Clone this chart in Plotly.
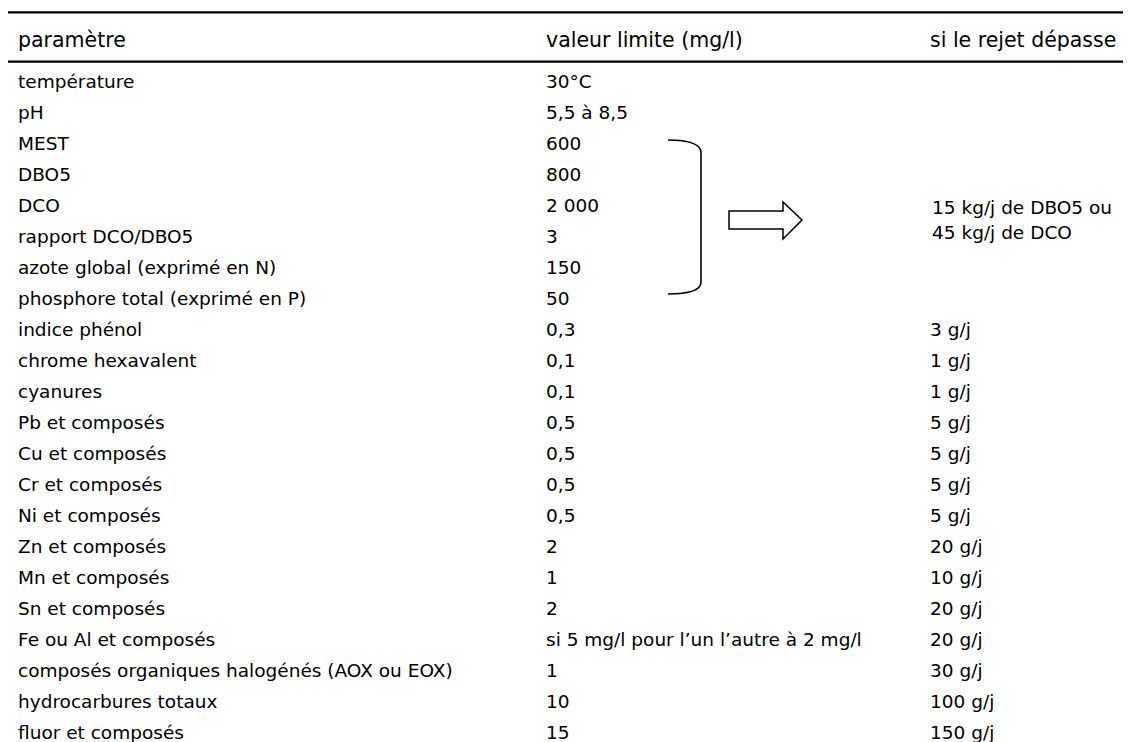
import plotly.graph_objects as go

# ---- data ----
headers = ["paramètre", "valeur limite (mg/l)", "si le rejet dépasse"]
parametres = [
    "température", "pH", "MEST", "DBO5", "DCO", "rapport DCO/DBO5",
    "azote global (exprimé en N)", "phosphore total (exprimé en P)",
    "indice phénol", "chrome hexavalent", "cyanures", "Pb et composés",
    "Cu et composés", "Cr et composés", "Ni et composés", "Zn et composés",
    "Mn et composés", "Sn et composés", "Fe ou Al et composés",
    "composés organiques halogénés (AOX ou EOX)", "hydrocarbures totaux",
    "fluor et composés",
]
valeurs_limite = [
    "30°C", "5,5 à 8,5", "600", "800", "2 000", "3", "150", "50",
    "0,3", "0,1", "0,1", "0,5", "0,5", "0,5", "0,5", "2", "1", "2",
    "si 5 mg/l pour l’un l’autre à 2 mg/l", "1", "10", "15",
]
seuils = [
    "", "", "", "", "", "", "", "",
    "3 g/j", "1 g/j", "1 g/j", "5 g/j", "5 g/j", "5 g/j", "5 g/j", "20 g/j",
    "10 g/j", "20 g/j", "20 g/j", "30 g/j", "100 g/j", "150 g/j",
]
seuil_groupe = ["15 kg/j de DBO5 ou", "45 kg/j de DCO"]

# ---- layout constants (page pixel coordinates) ----
W, H = 1131, 742
PAGE_OFF = 8  # default body margin of the html page
col_x = [17, 545, 929]
header_y = 40
row0_y, row_h = 81.8, 31.0
body_font = dict(family="DejaVu Sans, Verdana, sans-serif", size=18.5, color="#000000")
head_font = dict(family="DejaVu Sans, Verdana, sans-serif", size=20.5, color="#000000")

annotations = []
for x, h in zip(col_x, headers):
    annotations.append(dict(x=x, y=header_y, text=h, font=head_font))
for i, (p, v, s) in enumerate(zip(parametres, valeurs_limite, seuils)):
    y = row0_y + i * row_h
    for x, t in zip(col_x, (p, v, s)):
        if t:
            annotations.append(dict(x=x, y=y, text=t, font=body_font))
for j, t in enumerate(seuil_groupe):
    annotations.append(dict(x=931, y=207 + j * 25, text=t, font=body_font))

for a in annotations:
    a.update(xref="x", yref="y", xanchor="left", yanchor="middle",
             showarrow=False, borderpad=0)

shapes = [
    dict(type="line", x0=8, x1=W, y0=12.3, y1=12.3, line=dict(color="black", width=2.2)),
    dict(type="line", x0=8, x1=W, y0=61.7, y1=61.7, line=dict(color="black", width=2.2)),
    # bracket
    dict(type="path",
         path="M 668 140 C 690 140 701 144 701 153 L 701 282 C 701 290 690 294 668 294",
         line=dict(color="black", width=1.6)),
    # arrow
    dict(type="path",
         path="M 729 211 L 783 211 L 783 202 L 802 220 L 783 239 L 783 229 L 729 229 Z",
         line=dict(color="black", width=1.5), fillcolor="rgba(0,0,0,0)"),
]
for s in shapes:
    s.update(xref="x", yref="y")

fig = go.Figure()
fig.add_trace(go.Scatter(x=[PAGE_OFF, W], y=[PAGE_OFF, H], mode="markers",
                         marker=dict(opacity=0), hoverinfo="skip", showlegend=False))
fig.update_layout(
    width=W - PAGE_OFF, height=H - PAGE_OFF,
    margin=dict(l=0, r=0, t=0, b=0),
    paper_bgcolor="white", plot_bgcolor="white",
    xaxis=dict(range=[PAGE_OFF, W], visible=False, fixedrange=True),
    yaxis=dict(range=[H, PAGE_OFF], visible=False, fixedrange=True),
    annotations=annotations, shapes=shapes, showlegend=False,
)
fig.write_html("out.html")
